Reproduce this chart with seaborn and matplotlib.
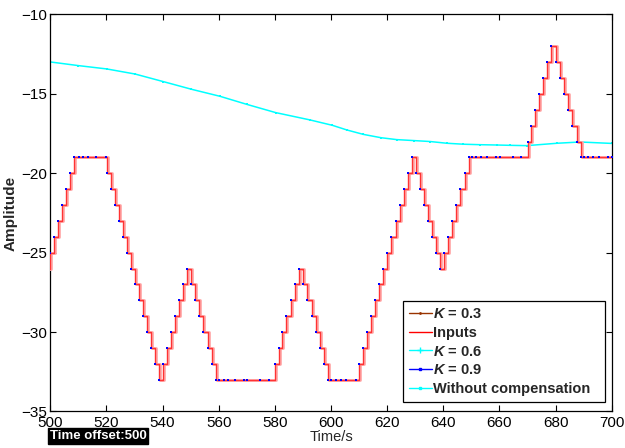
import numpy as np
import pandas as pd
import matplotlib
matplotlib.use("Agg")
import matplotlib.pyplot as plt
from matplotlib.lines import Line2D
import seaborn as sns

# ---- data ---------------------------------------------------------------
# staircase input: time at which each level starts, and the level itself
step_times = [498.6, 500.0, 501.4, 502.8, 504.2, 505.6, 507.1, 508.6,
              520.2, 521.6, 523.0, 524.6, 526.0, 527.4, 528.7, 530.2, 531.6,
              533.0, 534.5, 535.9, 537.3, 538.7,
              540.2, 541.6, 543.1, 544.6, 546.0, 547.4, 548.8,
              550.2, 551.6, 553.1, 554.5, 556.1, 557.5, 558.9,
              580.0, 581.4, 582.7, 584.1, 585.6, 587.2, 588.7,
              590.2, 591.6, 593.1, 594.6, 596.0, 597.5, 599.0,
              610.1, 611.5, 612.9, 614.3, 615.7, 617.0, 618.5, 620.0, 621.5,
              623.0, 624.5, 625.9, 627.4, 628.8,
              630.2, 631.7, 633.2, 634.7, 636.1, 637.5, 639.0,
              640.4, 641.8, 643.2, 644.6, 646.1, 647.6, 649.0,
              670.1, 671.4, 672.8, 674.2, 675.6, 677.0, 678.5,
              680.0, 681.5, 683.0, 684.5, 686.0, 687.5, 689.0, 700.0]
step_levels = [-26, -25, -24, -23, -22, -21, -20, -19,
               -20, -21, -22, -23, -24, -25, -26, -27, -28,
               -29, -30, -31, -32, -33,
               -32, -31, -30, -29, -28, -27, -26,
               -27, -28, -29, -30, -31, -32, -33,
               -32, -31, -30, -29, -28, -27, -26,
               -27, -28, -29, -30, -31, -32, -33,
               -32, -31, -30, -29, -28, -27, -26, -25, -24,
               -23, -22, -21, -20, -19,
               -20, -21, -22, -23, -24, -25, -26,
               -25, -24, -23, -22, -21, -20, -19,
               -18, -17, -16, -15, -14, -13, -12,
               -13, -14, -15, -16, -17, -18, -19, -19]

# extra solver samples of the K = 0.9 response on the flat stretches
k09_flat_times = [510.1, 511.6, 513.6, 516.2, 519.7,
                  560.1, 561.8, 563.4, 565.8, 569.0, 570.1, 574.7, 577.9,
                  600.0, 601.7, 603.5, 605.5, 608.9,
                  650.2, 651.6, 653.4, 655.5, 658.7, 660.2, 664.8, 667.7,
                  690.2, 691.6, 693.4, 695.5, 698.8, 700.0]

# uncompensated output
nocomp_times = [500.0, 510.0, 520.1, 530.2, 540.3, 550.3, 560.4, 570.0,
                580.3, 592.5, 600.5, 605.6, 611.5, 617.8, 623.4, 629.4,
                635.3, 641.3, 647.2, 653.1, 659.1, 663.8, 669.7, 680.5,
                688.7, 700.0]
nocomp_values = [-12.99, -13.22, -13.43, -13.75, -14.23, -14.71, -15.15, -15.66,
                 -16.18, -16.64, -16.98, -17.27, -17.55, -17.76, -17.88, -17.94,
                 -18.00, -18.11, -18.17, -18.20, -18.22, -18.24, -18.26, -18.11,
                 -18.03, -18.12]

response_delay = 0.35  # small lag of the K = 0.3 response behind the input

inputs = pd.DataFrame({"t": step_times, "amp": step_levels})
k03 = pd.DataFrame({"t": np.asarray(step_times) + response_delay, "amp": step_levels})
k09_t = np.concatenate([step_times[1:-1], k09_flat_times])
k09_idx = np.searchsorted(step_times, k09_t, side="right") - 1
k09 = pd.DataFrame({"t": k09_t, "amp": np.asarray(step_levels)[k09_idx]})
nocomp = pd.DataFrame({"t": nocomp_times, "amp": nocomp_values})

# ---- style --------------------------------------------------------------
sns.set_style("ticks")
plt.rcParams["font.family"] = ["Liberation Sans", "DejaVu Sans"]
plt.rcParams["mathtext.fontset"] = "custom"
plt.rcParams["mathtext.it"] = "Liberation Sans:italic:bold"
plt.rcParams["mathtext.rm"] = "Liberation Sans:bold"

fig = plt.figure(figsize=(6.25, 4.48), dpi=100)
ax = fig.add_axes([0.0805, 0.0815, 0.8982, 0.8862])

sns.lineplot(data=nocomp, x="t", y="amp", ax=ax, color="#00ffff", lw=1.1,
             marker="s", markersize=2, markeredgewidth=0, estimator=None,
             sort=False, zorder=2)
sns.lineplot(data=k03, x="t", y="amp", ax=ax, color="#ffaaaa", lw=2.0,
             drawstyle="steps-post", estimator=None, sort=False, zorder=3)
sns.lineplot(data=inputs, x="t", y="amp", ax=ax, color="#ff3333", lw=1.0,
             drawstyle="steps-post", estimator=None, sort=False, zorder=4)
sns.scatterplot(data=k09, x="t", y="amp", ax=ax, color="#0000ff", marker="s",
                s=4.5, linewidth=0, zorder=5)

ax.set_xlim(500, 700)
ax.set_ylim(-35, -10)
ax.set_xticks(np.arange(500, 701, 20))
ax.set_yticks(np.arange(-35, -9, 5))
ax.tick_params(direction="in", length=4, width=0.8, top=True, right=True,
               labelsize=11, colors="black")
ax.tick_params(axis="x", pad=3)
ax.tick_params(axis="y", pad=2)
for sp in ax.spines.values():
    sp.set_visible(True)
    sp.set_linewidth(0.9)
    sp.set_color("black")

ax.set_xlabel("Time/s", fontsize=10.5, labelpad=0.5)
ax.set_ylabel("Amplitude", fontsize=11, fontweight="bold", labelpad=3)

handles = [
    Line2D([], [], color="#993300", lw=1, marker=".", markersize=2),
    Line2D([], [], color="#ff0000", lw=1),
    Line2D([], [], color="#00ffff", lw=1, marker="+", markersize=4),
    Line2D([], [], color="#0000ff", lw=1, marker="s", markersize=2),
    Line2D([], [], color="#00ffff", lw=1, marker="s", markersize=2),
]
labels = [r"$K$ = 0.3", "Inputs", r"$K$ = 0.6", r"$K$ = 0.9", "Without compensation"]
leg = ax.legend(handles, labels, loc="lower left", mode="expand",
                bbox_to_anchor=(0.628, 0.024, 0.360, 0.25),
                prop={"weight": "bold", "size": 10.5}, frameon=True,
                fancybox=False, framealpha=1, edgecolor="black",
                handlelength=1.6, handletextpad=0.1, labelspacing=0.33,
                borderpad=0.4, borderaxespad=0)
leg.get_frame().set_linewidth(0.9)

fig.text(50 / 625, 1 - 436 / 448, "Time offset:500", color="white",
         fontsize=9.5, fontweight="bold", va="center", ha="left",
         bbox=dict(facecolor="black", edgecolor="black", pad=1.2))

fig.savefig("out.png", dpi=100)
